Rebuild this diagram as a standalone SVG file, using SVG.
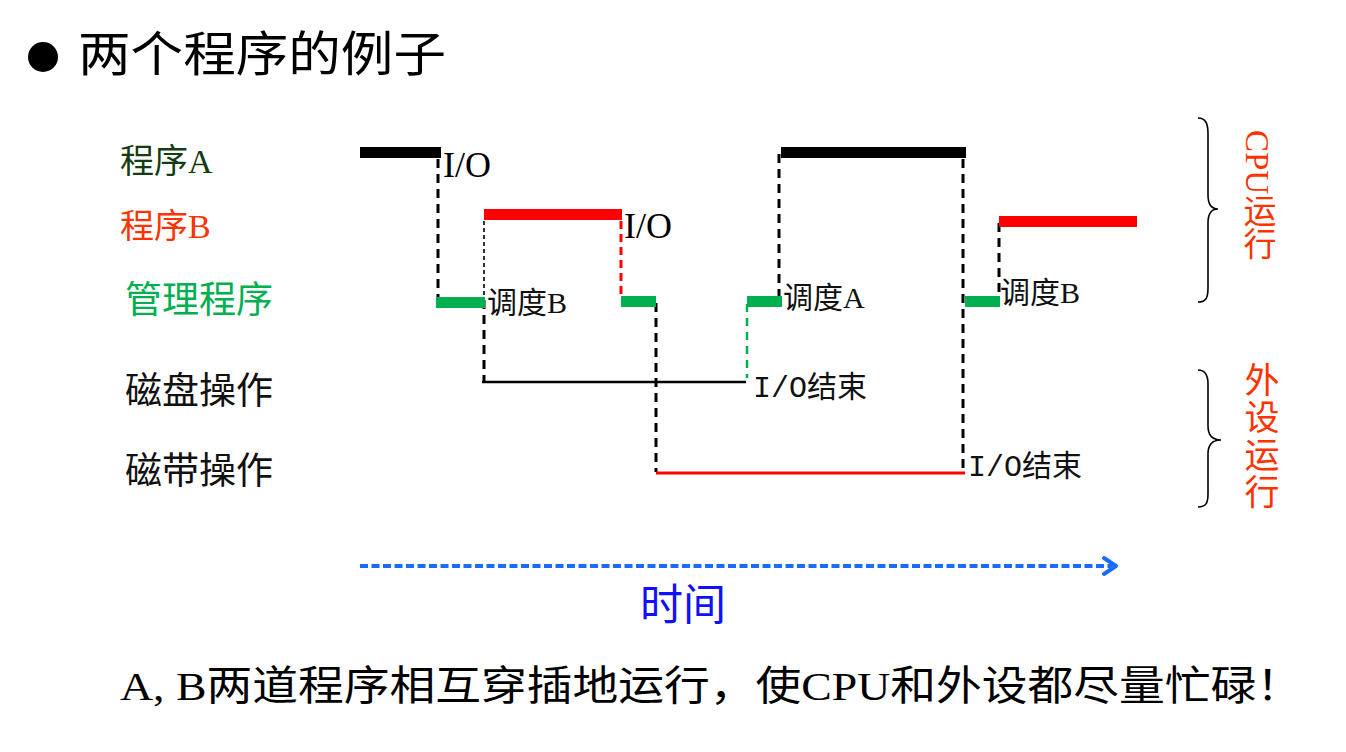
<svg xmlns="http://www.w3.org/2000/svg" width="1346" height="752" viewBox="0 0 1346 752">
  <defs>
    <style>
      .cjk { font-family: "Liberation Serif", "Noto Sans CJK SC", serif; }
      .lab { font-family: "Liberation Serif", "Noto Sans CJK SC", serif; font-size: 30px; fill: #111; }
      .io { font-family: "Liberation Serif", serif; font-size: 36px; fill: #000; }
      .ioend { font-family: "Liberation Mono", "Noto Sans CJK SC", monospace; font-size: 30px; fill: #111; }
      .bar { stroke: none; }
      .dash { fill: none; stroke: #000; stroke-width: 3; stroke-dasharray: 9 6; }
      .brace { fill: none; stroke: #000; stroke-width: 1.6; }
      .side { font-family: "Liberation Serif", "Noto Sans CJK SC", serif; fill: #ff3300; writing-mode: vertical-rl; }
    </style>
  </defs>
  <rect width="1346" height="752" fill="#fff"/>

  <g id="title">
    <circle cx="43" cy="57" r="15" fill="#000"/>
    <text class="cjk" x="78" y="71" font-size="48" textLength="368" lengthAdjust="spacingAndGlyphs" fill="#000">两个程序的例子</text>
  </g>

  <g id="row-labels">
    <text id="label-A" class="cjk" x="120" y="173" font-size="34" fill="#133d10">程序A</text>
    <text id="label-B" class="cjk" x="120" y="238" font-size="34" fill="#ff3300">程序B</text>
    <text id="label-mgr" class="cjk" x="125" y="313" font-size="37" fill="#00b050">管理程序</text>
    <text id="label-disk" class="cjk" x="125" y="404" font-size="37" fill="#111">磁盘操作</text>
    <text id="label-tape" class="cjk" x="125" y="484" font-size="37" fill="#111">磁带操作</text>
  </g>

  <g id="connectors">
    <line class="dash" x1="438" y1="159" x2="438" y2="297"/>
    <line x1="484" y1="221" x2="484" y2="296" stroke="#000" stroke-width="1.6" stroke-dasharray="4 3"/>
    <line class="dash" x1="484" y1="300" x2="484" y2="381"/>
    <line x1="621" y1="221" x2="621" y2="296" stroke="#ff0000" stroke-width="3" stroke-dasharray="8 5"/>
    <line class="dash" x1="656" y1="303" x2="656" y2="472"/>
    <line x1="747" y1="304" x2="747" y2="378" stroke="#00b050" stroke-width="2.5" stroke-dasharray="8 6"/>
    <line class="dash" x1="779" y1="154" x2="779" y2="297"/>
    <line class="dash" x1="963" y1="159" x2="963" y2="472"/>
    <line class="dash" x1="999" y1="223" x2="999" y2="297"/>
    <line x1="482" y1="382" x2="746" y2="382" stroke="#000" stroke-width="2.5"/>
    <line x1="656" y1="473" x2="965" y2="473" stroke="#ff0000" stroke-width="3"/>
  </g>

  <g id="program-A">
    <rect class="bar" x="360" y="147" width="81" height="11" fill="#000"/>
    <rect class="bar" x="781" y="147" width="185" height="11" fill="#000"/>
    <text class="io" x="443" y="177">I/O</text>
  </g>

  <g id="program-B">
    <rect class="bar" x="484" y="209" width="138" height="11" fill="#ff0000"/>
    <rect class="bar" x="999" y="216" width="138" height="11" fill="#ff0000"/>
    <text class="io" x="624" y="238">I/O</text>
  </g>

  <g id="manager">
    <rect class="bar" x="436" y="297" width="49" height="11" fill="#00b050"/>
    <rect class="bar" x="621" y="296" width="35" height="11" fill="#00b050"/>
    <rect class="bar" x="747" y="296" width="35" height="11" fill="#00b050"/>
    <rect class="bar" x="965" y="296" width="35" height="11" fill="#00b050"/>
    <text class="lab" x="487" y="313">调度B</text>
    <text class="lab" x="783" y="308">调度A</text>
    <text class="lab" x="1000" y="303">调度B</text>
  </g>

  <g id="io-end">
    <text x="753" y="397" class="ioend">I/O<tspan font-family="Liberation Serif, Noto Sans CJK SC, serif">结束</tspan></text>
    <text x="968" y="476" class="ioend">I/O<tspan font-family="Liberation Serif, Noto Sans CJK SC, serif">结束</tspan></text>
  </g>

  <g id="cpu-brace">
    <path class="brace" d="M1198,118 C1206,118 1208,124 1208,134 L1208,195 C1208,204 1211,209 1218,209 C1211,209 1208,214 1208,223 L1208,288 C1208,298 1206,302 1198,302"/>
    <text class="side" x="1257" y="130" font-size="33">CPU运行</text>
  </g>

  <g id="device-brace">
    <path class="brace" d="M1198,370 C1206,370 1208,376 1208,384 L1208,426 C1208,435 1212,440 1221,440 C1212,440 1208,445 1208,454 L1208,494 C1208,503 1206,507 1198,507"/>
    <text class="side" x="1258" y="362" font-size="35" letter-spacing="2.5">外设运行</text>
  </g>

  <g id="time-axis">
    <line x1="360" y1="566" x2="1112" y2="566" stroke="#1a6cff" stroke-width="4" stroke-dasharray="8 3.5"/>
    <polyline points="1104,558 1116,566 1104,574" fill="none" stroke="#1a6cff" stroke-width="4" stroke-linecap="round" stroke-linejoin="round"/>
    <text class="cjk" x="640" y="620" font-size="43" fill="#1010ff">时间</text>
  </g>

  <g id="caption">
    <text class="cjk" x="120" y="700" font-size="41" textLength="1182" lengthAdjust="spacingAndGlyphs" fill="#000">A, B两道程序相互穿插地运行，使CPU和外设都尽量忙碌！</text>
  </g>
</svg>
